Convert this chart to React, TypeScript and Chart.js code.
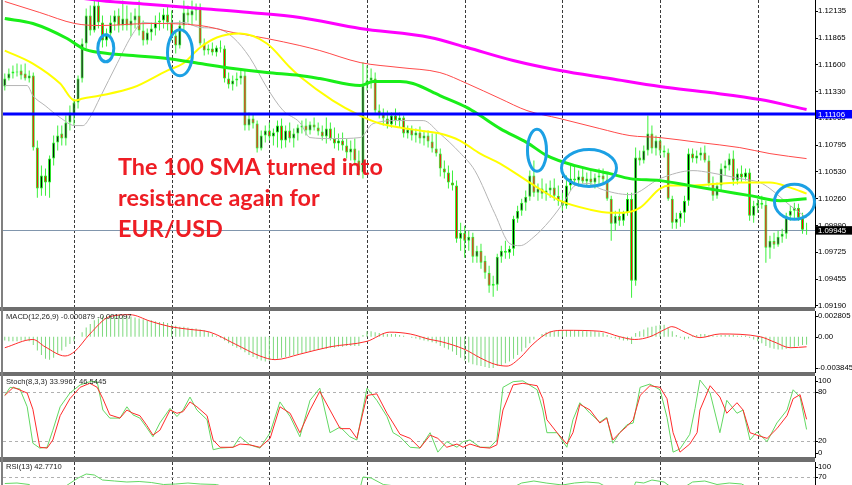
import React, { useEffect, useRef } from 'react';
import { Chart, registerables } from 'chart.js';

Chart.register(...registerables);

const W = 852;
const H = 485;
const AXIS_W = 37;
const FONT_FAMILY = '"Liberation Sans", Arial, sans-serif';

// ---------------- price candles (EUR/USD) ----------------
const open = [
  1.1138, 1.1146, 1.1151, 1.1153, 1.1154, 1.1151, 1.1146, 1.1149, 1.1077, 1.1036,
  1.1049, 1.1042, 1.1066, 1.1082, 1.1091, 1.1086, 1.1102, 1.1109, 1.1122, 1.1146,
  1.1181, 1.1209, 1.1194, 1.1219, 1.1202, 1.1184, 1.1191, 1.1202, 1.1209, 1.1199,
  1.1206, 1.1199, 1.1204, 1.1209, 1.1194, 1.1184, 1.1192, 1.1196, 1.1202, 1.1204,
  1.1210, 1.1202, 1.1189, 1.1179, 1.1199, 1.1212, 1.1209, 1.1214, 1.1216, 1.1181,
  1.1174, 1.1176, 1.1172, 1.1177, 1.1176, 1.1146, 1.1140, 1.1144, 1.1146, 1.1149,
  1.1099, 1.1106, 1.1101, 1.1076, 1.1089, 1.1094, 1.1088, 1.1092, 1.1099, 1.1084,
  1.1094, 1.1086, 1.1091, 1.1097, 1.1099, 1.1094, 1.1100, 1.1097, 1.1093, 1.1088,
  1.1096, 1.1086, 1.1081, 1.1084, 1.1079, 1.1072, 1.1076, 1.1064, 1.1052, 1.1139,
  1.1144, 1.1146, 1.1114, 1.1110, 1.1106, 1.1100, 1.1109, 1.1104, 1.1107, 1.1091,
  1.1095, 1.1089, 1.1092, 1.1086, 1.1089, 1.1083, 1.1076, 1.1071, 1.1056, 1.1052,
  1.1042, 1.1039, 1.0986, 1.0992, 1.0984, 1.0988, 1.0968, 1.0974, 1.0964, 1.0952,
  1.0939, 1.0940, 1.0968, 1.0974, 1.0972, 1.0976, 1.1006, 1.1014, 1.1022, 1.1028,
  1.1049, 1.1032, 1.1036, 1.1031, 1.1034, 1.1037, 1.1029, 1.1024, 1.1019, 1.1039,
  1.1046, 1.1044, 1.1048, 1.1043, 1.1046, 1.1042, 1.1047, 1.1049, 1.1045, 1.1026,
  1.1001, 1.1009, 1.1004, 1.1012, 1.1026, 1.0944, 1.1067, 1.1064, 1.1074, 1.1091,
  1.1076, 1.1084, 1.1074, 1.1072, 1.1026, 1.1002, 1.1006, 1.1012, 1.1024, 1.1071,
  1.1066, 1.1069, 1.1072, 1.1064, 1.1041, 1.1029, 1.1039, 1.1056, 1.1059, 1.1066,
  1.1044, 1.1051, 1.1047, 1.1052, 1.1009, 1.1019, 1.1022, 1.1020, 1.0977, 1.0984,
  1.0980, 1.0988, 1.0991, 1.1009, 1.1014, 1.1017, 1.1007, 1.0995,
];
const high = [
  1.1151, 1.1156, 1.1159, 1.1161, 1.1160, 1.1161, 1.1154, 1.1152, 1.1084, 1.1059,
  1.1056, 1.1069, 1.1089, 1.1099, 1.1099, 1.1109, 1.1119, 1.1126, 1.1149, 1.1186,
  1.1216, 1.1219, 1.1224, 1.1224, 1.1209, 1.1196, 1.1209, 1.1214, 1.1216, 1.1224,
  1.1219, 1.1212, 1.1216, 1.1224, 1.1204, 1.1196, 1.1202, 1.1209, 1.1212, 1.1216,
  1.1219, 1.1214, 1.1194, 1.1204, 1.1224, 1.1219, 1.1224, 1.1221, 1.1221, 1.1186,
  1.1180, 1.1182, 1.1179, 1.1184, 1.1179, 1.1152, 1.1149, 1.1152, 1.1154, 1.1154,
  1.1112, 1.1111, 1.1104, 1.1094, 1.1099, 1.1102, 1.1096, 1.1104, 1.1106, 1.1099,
  1.1102, 1.1096, 1.1100, 1.1104, 1.1106, 1.1103, 1.1107, 1.1102, 1.1099, 1.1107,
  1.1102, 1.1097, 1.1091, 1.1092, 1.1086, 1.1084, 1.1086, 1.1074, 1.1162, 1.1159,
  1.1156, 1.1152, 1.1120, 1.1116, 1.1114, 1.1112, 1.1116, 1.1112, 1.1109, 1.1099,
  1.1099, 1.1096, 1.1098, 1.1094, 1.1094, 1.1091, 1.1092, 1.1076, 1.1064, 1.1059,
  1.1054, 1.1044, 1.1002, 1.0999, 1.0994, 1.0992, 1.0979, 1.0981, 1.0969, 1.0959,
  1.0949, 1.0971, 1.0979, 1.0984, 1.0979, 1.1009, 1.1019, 1.1026, 1.1034, 1.1054,
  1.1064, 1.1041, 1.1046, 1.1041, 1.1044, 1.1046, 1.1039, 1.1032, 1.1049, 1.1061,
  1.1059, 1.1054, 1.1056, 1.1052, 1.1054, 1.1051, 1.1056, 1.1056, 1.1052, 1.1029,
  1.1014, 1.1016, 1.1014, 1.1032, 1.1032, 1.1077, 1.1074, 1.1079, 1.1109, 1.1099,
  1.1089, 1.1087, 1.1079, 1.1076, 1.1029, 1.1012, 1.1014, 1.1029, 1.1076, 1.1076,
  1.1074, 1.1077, 1.1079, 1.1069, 1.1048, 1.1042, 1.1061, 1.1064, 1.1071, 1.1074,
  1.1056, 1.1059, 1.1056, 1.1056, 1.1024, 1.1026, 1.1029, 1.1024, 1.0989, 1.0992,
  1.0994, 1.0996, 1.1012, 1.1019, 1.1022, 1.1021, 1.1012, 1.1002,
];
const low = [
  1.1134, 1.1144, 1.1146, 1.1148, 1.1145, 1.1144, 1.1142, 1.1074, 1.1027, 1.1029,
  1.1029, 1.1027, 1.1059, 1.1074, 1.1079, 1.1079, 1.1094, 1.1099, 1.1116, 1.1142,
  1.1176, 1.1189, 1.1192, 1.1196, 1.1177, 1.1178, 1.1187, 1.1194, 1.1192, 1.1194,
  1.1194, 1.1188, 1.1196, 1.1189, 1.1179, 1.1180, 1.1184, 1.1189, 1.1194, 1.1196,
  1.1194, 1.1184, 1.1171, 1.1176, 1.1192, 1.1202, 1.1199, 1.1204, 1.1179, 1.1169,
  1.1170, 1.1169, 1.1168, 1.1172, 1.1142, 1.1136, 1.1134, 1.1138, 1.1140, 1.1094,
  1.1094, 1.1096, 1.1072, 1.1074, 1.1082, 1.1084, 1.1079, 1.1077, 1.1076, 1.1077,
  1.1082, 1.1077, 1.1084, 1.1091, 1.1089, 1.1090, 1.1094, 1.1089, 1.1084, 1.1081,
  1.1084, 1.1076, 1.1074, 1.1074, 1.1066, 1.1064, 1.1059, 1.1049, 1.1046, 1.1134,
  1.1136, 1.1111, 1.1106, 1.1099, 1.1096, 1.1097, 1.1099, 1.1097, 1.1087, 1.1086,
  1.1084, 1.1082, 1.1081, 1.1079, 1.1077, 1.1072, 1.1068, 1.1048, 1.1046, 1.1036,
  1.1034, 1.0982, 1.0974, 1.0967, 1.0974, 1.0962, 1.0962, 1.0956, 1.0946, 1.0932,
  1.0928, 1.0934, 1.0962, 1.0966, 1.0966, 1.0969, 1.1002, 1.1009, 1.1014, 1.1024,
  1.1028, 1.1024, 1.1026, 1.1024, 1.1027, 1.1024, 1.1019, 1.1014, 1.1016, 1.1034,
  1.1039, 1.1038, 1.1041, 1.1038, 1.1039, 1.1036, 1.1039, 1.1041, 1.1024, 1.0984,
  1.0994, 1.0999, 1.0999, 1.1009, 1.0927, 1.0939, 1.1059, 1.1061, 1.1069, 1.1071,
  1.1069, 1.1069, 1.1067, 1.1024, 1.0996, 1.0996, 1.0998, 1.1002, 1.1019, 1.1062,
  1.1061, 1.1064, 1.1062, 1.1038, 1.1024, 1.1026, 1.1034, 1.1049, 1.1054, 1.1039,
  1.1040, 1.1042, 1.1044, 1.1004, 1.1002, 1.1012, 1.1016, 1.0962, 1.0966, 1.0976,
  1.0978, 1.0982, 1.0986, 1.1004, 1.1006, 1.1004, 1.0991, 1.0990,
];
const close = [
  1.1146, 1.1151, 1.1153, 1.1152, 1.1149, 1.1146, 1.1149, 1.1077, 1.1036, 1.1049,
  1.1042, 1.1066, 1.1082, 1.1089, 1.1086, 1.1102, 1.1112, 1.1122, 1.1146, 1.1181,
  1.1209, 1.1194, 1.1219, 1.1202, 1.1184, 1.1191, 1.1202, 1.1209, 1.1199, 1.1206,
  1.1199, 1.1204, 1.1209, 1.1194, 1.1184, 1.1192, 1.1196, 1.1202, 1.1204, 1.1210,
  1.1202, 1.1189, 1.1179, 1.1199, 1.1212, 1.1209, 1.1214, 1.1216, 1.1181, 1.1174,
  1.1176, 1.1172, 1.1177, 1.1176, 1.1146, 1.1140, 1.1144, 1.1146, 1.1149, 1.1099,
  1.1106, 1.1101, 1.1076, 1.1089, 1.1094, 1.1088, 1.1092, 1.1099, 1.1084, 1.1094,
  1.1086, 1.1091, 1.1097, 1.1099, 1.1094, 1.1100, 1.1097, 1.1093, 1.1088, 1.1096,
  1.1086, 1.1081, 1.1084, 1.1079, 1.1072, 1.1076, 1.1064, 1.1054, 1.1139, 1.1144,
  1.1147, 1.1114, 1.1110, 1.1106, 1.1100, 1.1109, 1.1104, 1.1107, 1.1091, 1.1095,
  1.1089, 1.1092, 1.1086, 1.1089, 1.1083, 1.1076, 1.1071, 1.1056, 1.1052, 1.1042,
  1.1039, 1.0986, 1.0992, 1.0984, 1.0988, 1.0968, 1.0974, 1.0962, 1.0952, 1.0939,
  1.0941, 1.0968, 1.0974, 1.0972, 1.0976, 1.1006, 1.1014, 1.1022, 1.1028, 1.1049,
  1.1032, 1.1036, 1.1031, 1.1034, 1.1037, 1.1029, 1.1024, 1.1019, 1.1039, 1.1046,
  1.1044, 1.1048, 1.1043, 1.1046, 1.1042, 1.1047, 1.1049, 1.1045, 1.1026, 1.1001,
  1.1009, 1.1004, 1.1012, 1.1026, 1.0944, 1.1067, 1.1064, 1.1074, 1.1091, 1.1076,
  1.1084, 1.1074, 1.1072, 1.1026, 1.1002, 1.1006, 1.1012, 1.1024, 1.1071, 1.1066,
  1.1069, 1.1072, 1.1064, 1.1041, 1.1029, 1.1039, 1.1056, 1.1059, 1.1066, 1.1044,
  1.1051, 1.1047, 1.1052, 1.1009, 1.1019, 1.1022, 1.1020, 1.0977, 1.0984, 1.0980,
  1.0988, 1.0991, 1.1009, 1.1014, 1.1017, 1.1007, 1.0995, 1.09945,
];

// ---------------- moving averages: [candle index, price] ----------------
const maMagenta = [
  [0, 1.1239], [11.1, 1.1231], [23.4, 1.1224], [35.7, 1.122], [48, 1.1216], [60.2, 1.1212],
  [72.5, 1.1207], [87.3, 1.1196], [104.5, 1.1187], [113.6, 1.1177], [124.9, 1.1164],
  [136.4, 1.1154], [148.7, 1.1146], [161, 1.1138], [173.3, 1.1132], [185.6, 1.1125], [197, 1.1115],
];
const maRed = [
  [0, 1.1223], [8.6, 1.1212], [17.2, 1.1201], [23.4, 1.1199], [35.7, 1.1201], [48, 1.1199],
  [56.1, 1.1192], [64.4, 1.1186], [72.5, 1.1179], [77.4, 1.1174], [87.3, 1.1162], [97.1, 1.1157],
  [106.9, 1.1152], [113.6, 1.1141], [121.7, 1.1126], [128.3, 1.1114], [136.4, 1.1106],
  [146.2, 1.1096], [153.6, 1.1089], [161, 1.1087], [170.8, 1.1082], [180.6, 1.1077],
  [188, 1.1071], [197, 1.1066],
];
const sma100 = [
  [0, 1.1206], [6.9, 1.1201], [15.3, 1.1186], [19.2, 1.1176], [23.4, 1.1172], [31.5, 1.1169],
  [39.9, 1.1166], [48, 1.1161], [56.1, 1.1156], [64.4, 1.1152], [72.5, 1.1149], [77.4, 1.1146],
  [87.3, 1.1139], [90.5, 1.1143], [97.1, 1.1143], [100.3, 1.1141], [106.9, 1.1129],
  [113.6, 1.1117], [116.8, 1.1109], [121.7, 1.1096], [128.3, 1.1082], [133.2, 1.1069],
  [140.1, 1.1059], [148.7, 1.1051], [153.6, 1.1046], [161, 1.1044], [168.3, 1.1039],
  [175.7, 1.1034], [183.1, 1.1029], [190.5, 1.1024], [197, 1.1026],
];
const maYellow = [
  [0, 1.1174], [6.9, 1.1161], [13.6, 1.1141], [17.2, 1.1124], [19.2, 1.1126], [23.4, 1.1129],
  [31.5, 1.1137], [39.9, 1.1154], [43.8, 1.1161], [48, 1.1177], [52.1, 1.1187], [57.8, 1.1191],
  [64.4, 1.1181], [70.1, 1.1157], [72.5, 1.1148], [80.6, 1.1124], [87.3, 1.1109], [92.2, 1.1101],
  [97.1, 1.1097], [102, 1.1094], [106.9, 1.1091], [111.8, 1.1084], [116.8, 1.1071],
  [121.7, 1.1061], [129, 1.1042], [136.4, 1.1024], [143.8, 1.1015], [148.7, 1.1012],
  [151.9, 1.1012], [156.1, 1.1017], [161, 1.1036], [163.4, 1.1039], [168.3, 1.1039],
  [175.7, 1.1041], [180.6, 1.1042], [188, 1.1042], [193, 1.1037], [197, 1.1031],
];
const maGray = [
  [0, 1.1139], [5.5, 1.1139], [6.9, 1.1129], [9.9, 1.1119], [13.6, 1.1107], [17.2, 1.1099],
  [19.2, 1.1099], [20.9, 1.1107], [23.4, 1.1127], [27.6, 1.1161], [31.5, 1.1191], [34, 1.1202],
  [38.1, 1.1201], [43.8, 1.1202], [48, 1.1197], [52.1, 1.1196], [56.1, 1.1187], [60.2, 1.1167],
  [64.4, 1.1137], [68.4, 1.1114], [72.5, 1.1102], [75, 1.1087], [80.6, 1.1086], [87.3, 1.1087],
  [90.5, 1.1101], [97.1, 1.1104], [102.8, 1.1104], [106.9, 1.1091], [111.8, 1.1072],
  [115.5, 1.1054], [120.4, 1.1011], [124.1, 1.0981], [126.6, 1.0979], [129.8, 1.0987],
  [133.9, 1.1004], [137.6, 1.1024], [140.1, 1.1039], [143.8, 1.1041], [146.2, 1.1036],
  [153.6, 1.103], [161, 1.1046], [169.1, 1.1054], [173.3, 1.1052], [180.6, 1.1046],
  [185.6, 1.1042], [188, 1.1036], [193, 1.1019], [197, 1.1007],
];

// ---------------- MACD(12,26,9) ----------------
const macdMain = [
  -0.0004, -0.0005, -0.0005, -0.0005, -0.0004, -0.0004, -0.0005, -0.0009,
  -0.0015, -0.0020, -0.0024, -0.0025, -0.0023,
  -0.0019, -0.0015, -0.0011, -0.0008, -0.0005,
  0.0000, 0.0005, 0.0010,
  0.0014, 0.0018, 0.0020, 0.0022,
  0.0023, 0.0024, 0.0024, 0.0024, 0.0023, 0.0023, 0.0022, 0.0021,
  0.0020, 0.0019, 0.0018, 0.0018, 0.0017, 0.0016, 0.0016, 0.0015,
  0.0013, 0.0012, 0.0011, 0.0011, 0.0010, 0.0009, 0.0009, 0.0008,
  0.0007, 0.0005, 0.0003, 0.0001, -0.0001, -0.0004,
  -0.0007, -0.0010, -0.0012, -0.0014, -0.0017, -0.0020, -0.0022, -0.0024, -0.0026, -0.0027,
  -0.0026, -0.0025, -0.0024, -0.0023, -0.0022, -0.0021, -0.0020, -0.0019,
  -0.0018, -0.0017, -0.0016, -0.0015, -0.0014, -0.0013, -0.0013, -0.0012, -0.0012, -0.0011,
  -0.0011, -0.0010, -0.0010, -0.0010, -0.0010,
  0.0002, 0.0006, 0.0006, 0.0005, 0.0004,
  0.0004, 0.0003, 0.0003, 0.0003, 0.0002, 0.0001, 0.0000,
  -0.0001, -0.0002, -0.0003, -0.0004, -0.0005, -0.0006, -0.0007,
  -0.0010, -0.0012, -0.0014, -0.0016, -0.0020, -0.0023, -0.0026,
  -0.0028, -0.0030, -0.0031, -0.0032, -0.0033, -0.0034, -0.0034, -0.0032,
  -0.0031, -0.0029, -0.0027, -0.0024, -0.0020, -0.0016, -0.0012,
  -0.0007, -0.0003, 0.0000, 0.0003,
  0.0005, 0.0006, 0.0006, 0.0007, 0.0007, 0.0007, 0.0007, 0.0007, 0.0007, 0.0007, 0.0006,
  0.0006, 0.0006, 0.0005,
  0.0004, 0.0002, -0.0001, -0.0002, -0.0003, -0.0004, -0.0004, -0.0008,
  0.0004, 0.0006, 0.0008, 0.0010, 0.0011, 0.0012,
  0.0013, 0.0013, 0.0010, 0.0006,
  0.0002, -0.0001, -0.0003, -0.0002, 0.0001,
  0.0002, 0.0003, 0.0003, 0.0002, 0.0001, 0.0001, 0.0002, 0.0002,
  0.0002, 0.0002, 0.0001, 0.0001, 0.0001, -0.0001,
  -0.0003, -0.0005, -0.0007, -0.0010, -0.0012, -0.0013, -0.0014,
  -0.0014, -0.0013, -0.0012, -0.0011, -0.0010, -0.0009, -0.000879,
];
const macdSignal = [
  [0, -0.0012], [6.9, -0.0003], [9.9, -0.0011], [14.8, -0.0021], [17.2, -0.0016], [20.9, 0.0003],
  [25.8, 0.0022], [30.8, 0.0024], [35.7, 0.0017], [40.6, 0.0011], [45.5, 0.0008], [50.4, 0.0005],
  [56.6, -0.0008], [62.7, -0.0021], [66.4, -0.0025], [72.5, -0.0019], [79.9, -0.0011],
  [89, -0.0005], [94.6, 0.0005], [99.6, 0.0003], [104.5, -0.0003], [106.9, -0.0005],
  [113.1, -0.0014], [116.8, -0.0023], [120.4, -0.003], [123.4, -0.0032], [126.6, -0.0023],
  [129.8, -0.0008], [133.9, 0.0005], [137.6, 0.0007], [146.2, 0.0006], [151.1, 0.0],
  [154.8, -0.0003], [158.5, 0.0], [162.2, 0.0008], [163.9, 0.0011], [167.1, 0.0005],
  [170.8, -0.0001], [175.7, 0.0003], [185.6, 0.0], [189.2, -0.0006], [193, -0.0012],
  [197, -0.001097],
];

// ---------------- Stochastic(8,3,3) ----------------
const stochMain = [
  [0, 76], [1.3, 86], [3.7, 84], [5.5, 62], [6.9, 17], [8.6, 11], [10.4, 12], [11.8, 33],
  [13.6, 62], [16, 79], [18.5, 89], [20.9, 93], [22.7, 93], [24.1, 58], [25.8, 48], [28.3, 48],
  [30, 62], [31.5, 52], [33.2, 48], [34.9, 36], [36.4, 25], [38.1, 42], [40.6, 60], [42.3, 50],
  [43.8, 58], [45.5, 74], [47.2, 58], [49.7, 46], [51.2, 9], [52.9, 11], [56.1, 12], [57.8, 25],
  [60.2, 15], [62.7, 11], [65.2, 30], [67.6, 68], [70.1, 50], [72.5, 25], [75, 70], [77.4, 85],
  [79.9, 30], [82.4, 37], [84.8, 25], [86.5, 21], [89, 85], [91.4, 70], [93.9, 50], [95.4, 30],
  [97.1, 25], [99.6, 12], [102, 11], [104.5, 30], [106.4, 6], [108.6, 19], [111.1, 12],
  [112.6, 19], [114.3, 21], [116.8, 12], [119.2, 12], [120.9, 21], [122.4, 86], [124.9, 93],
  [127.3, 94], [130.8, 83], [132.2, 58], [133.2, 30], [135.7, 30], [138.1, 12], [139.6, 46],
  [141.3, 67], [143.8, 54], [146.2, 43], [147.9, 49], [149.4, 17], [151.1, 30], [152.9, 40],
  [154.4, 42], [156.1, 86], [158.5, 90], [161, 83], [162.7, 49], [164.2, 6], [165.9, 10],
  [168.3, 28], [169.6, 60], [170.8, 95], [173.3, 79], [175.7, 30], [177.4, 70], [179.9, 54],
  [181.4, 58], [183.1, 21], [184.8, 31], [187.3, 19], [189.7, 42], [192.2, 58], [193.7, 83],
  [195.4, 74], [197, 33.9967],
];
const stochSignal = [
  [0, 76], [2.1, 86], [5.5, 79], [6.9, 59], [8.6, 12], [10.4, 11], [11.8, 21], [13.6, 51],
  [16, 72], [18.5, 86], [20.9, 91], [22.7, 86], [24.1, 72], [25.8, 52], [28.3, 48], [30, 58],
  [31.5, 54], [33.2, 51], [34.9, 39], [36.4, 27], [38.1, 33], [40.6, 58], [42.3, 54], [43.8, 56],
  [45.5, 68], [47.2, 62], [49.7, 51], [51.2, 21], [52.9, 12], [56.1, 12], [57.8, 16], [60.2, 15],
  [62.7, 12], [65.2, 23], [67.6, 62], [70.1, 54], [72.5, 30], [75, 58], [77.4, 81], [79.9, 58],
  [82.4, 35], [84.8, 35], [86.5, 23], [89, 76], [91.4, 78], [93.9, 54], [95.4, 42], [97.1, 28],
  [99.6, 23], [102, 11], [104.5, 27], [106.4, 23], [108.6, 12], [111.1, 16], [112.6, 12],
  [114.3, 16], [116.8, 12], [119.2, 11], [120.9, 15], [122.4, 58], [124.9, 89], [127.3, 91],
  [130.8, 88], [132.2, 72], [133.2, 46], [135.7, 30], [138.1, 16], [139.6, 30], [141.3, 65],
  [143.8, 58], [146.2, 42], [147.9, 48], [149.4, 21], [151.1, 30], [152.9, 38], [154.4, 46],
  [156.1, 76], [158.5, 88], [161, 86], [162.7, 72], [164.2, 30], [165.9, 6], [168.3, 16],
  [170.1, 30], [170.8, 58], [173.3, 88], [175.7, 74], [177.4, 54], [179.9, 67], [181.4, 58],
  [183.1, 30], [184.8, 27], [187.3, 23], [189.7, 35], [192.2, 51], [193.7, 72], [195.4, 77],
  [197, 46.5445],
];

// ---------------- RSI(13) ----------------
const rsi = [
  [0, 57], [3, 58], [6, 55], [8, 40], [12, 40], [15, 52], [18, 68], [20, 76], [22, 74], [24, 64],
  [27, 62], [30, 60], [33, 61], [36, 59], [39, 55], [42, 56], [45, 58], [48, 56], [52, 55],
  [56, 45], [60, 38], [66, 36], [72, 40], [78, 42], [84, 40], [87, 38], [88, 70], [90, 68],
  [93, 55], [98, 50], [104, 45], [110, 32], [116, 25], [121, 28], [125, 50], [127, 58], [130, 62],
  [133, 58], [137, 54], [140, 58], [143, 60], [146, 58], [149, 45], [154, 35], [155, 60],
  [157, 58], [159, 64], [162, 60], [164, 48], [167, 50], [169, 60], [172, 62], [175, 55],
  [178, 58], [181, 56], [183, 48], [187, 38], [190, 40], [193, 46], [195, 47], [197, 42.771],
];

// ---------------- axis ticks / levels / labels ----------------
const mainTicks = [1.12135, 1.11865, 1.116, 1.1133, 1.11065, 1.10795, 1.1053, 1.1026, 1.0999, 1.09725, 1.09455, 1.0919];
const macdTicks = [0.002805, 0, -0.003845];
const stochTicks = [100, 80, 20, 0];
const rsiTicks = [100, 70];
const stochLevels = [80, 20];
const rsiLevels = [70, 30];
const resistanceLevel = 1.11106;
const lastPrice = 1.09945;
const gridCandles = [17, 41, 65, 89, 113, 137, 161, 185];
const noteLines = ['The 100 SMA turned into', 'resistance again for', 'EUR/USD'];
const headers = {
  macd: 'MACD(12,26,9) -0.000879 -0.001097',
  stoch: 'Stoch(8,3,3) 33.9967 46.5445',
  rsi: 'RSI(13) 42.7710',
};
// highlighted spots: [candle index, price, rx px, ry px]
const circles = [
  [24.82, 1.11762, 8, 13.5],
  [43.05, 1.11717, 12.5, 23],
  [130.76, 1.10743, 9.5, 21],
  [143.54, 1.10566, 27.5, 18.5],
  [194.03, 1.10229, 20, 17.5],
];

// ---------------- layout constants ----------------
const X_MIN = -0.44;
const X_MAX = 199.07;
const MAIN_MAX = 1.12245;
const MAIN_MIN = 1.09177;

const toXY = (pts) => pts.map(([x, y]) => ({ x, y }));

function baseOptions(padTop, padBottom, yMin, yMax) {
  return {
    responsive: false,
    animation: false,
    devicePixelRatio: 1,
    events: [],
    layout: { padding: { left: 3, right: 0, top: padTop, bottom: padBottom } },
    plugins: { legend: { display: false }, tooltip: { enabled: false } },
    scales: {
      x: { type: 'linear', display: false, min: X_MIN, max: X_MAX, offset: false, grid: { offset: false } },
      y: {
        type: 'linear',
        position: 'right',
        min: yMin,
        max: yMax,
        afterFit: (s) => { s.width = AXIS_W; s.paddingTop = 0; s.paddingBottom = 0; },
        ticks: { display: false },
        grid: { display: false },
        border: { display: true, color: '#000', width: 1 },
      },
    },
  };
}

const vgridPlugin = {
  id: 'vgrid',
  beforeDatasetsDraw(chart) {
    const { ctx, chartArea: a } = chart;
    const xs = chart.scales.x;
    ctx.save();
    ctx.strokeStyle = '#3a3a3a';
    ctx.lineWidth = 1;
    ctx.setLineDash([3, 2]);
    for (const g of gridCandles) {
      const px = Math.round(xs.getPixelForValue(g)) + 0.5;
      ctx.beginPath();
      ctx.moveTo(px, a.top);
      ctx.lineTo(px, a.bottom);
      ctx.stroke();
    }
    ctx.restore();
  },
};

const framePlugin = {
  id: 'frame',
  afterDraw(chart) {
    const { ctx, chartArea: a, height } = chart;
    ctx.save();
    ctx.fillStyle = '#6e6e6e';
    if (a.top > 0) ctx.fillRect(0, 0, a.right, a.top);
    if (a.bottom < height) ctx.fillRect(0, a.bottom, a.right, height - a.bottom);
    ctx.fillStyle = '#808080';
    ctx.fillRect(1, 0, 2, height);
    ctx.restore();
  },
};

function subPanelPlugin(header, ticks, fmt, levels, headerDy) {
  return {
    id: 'subpanel',
    beforeDatasetsDraw(chart) {
      const { ctx, chartArea: a } = chart;
      const ys = chart.scales.y;
      ctx.save();
      ctx.strokeStyle = '#b0b0b0';
      ctx.lineWidth = 1;
      ctx.setLineDash([3, 3]);
      for (const l of levels) {
        const py = Math.round(ys.getPixelForValue(l)) + 0.5;
        ctx.beginPath();
        ctx.moveTo(a.left, py);
        ctx.lineTo(a.right, py);
        ctx.stroke();
      }
      ctx.restore();
    },
    afterDraw(chart) {
      const { ctx, chartArea: a } = chart;
      const ys = chart.scales.y;
      ctx.save();
      ctx.font = `7.8px ${FONT_FAMILY}`;
      ctx.fillStyle = '#000';
      ctx.textBaseline = 'middle';
      ctx.textAlign = 'left';
      const top = ys.max;
      const bottom = ys.min;
      for (const v of ticks) {
        let py = ys.getPixelForValue(v);
        if (v === top) py += 4.5;
        else if (v === bottom) py -= 3.8;
        ctx.fillRect(a.right, Math.round(py), 3, 1);
        ctx.fillText(fmt(v), a.right + 3, py);
      }
      ctx.font = `7.6px ${FONT_FAMILY}`;
      ctx.fillStyle = '#1e1e1e';
      ctx.fillText(header, 6, a.top + headerDy);
      ctx.restore();
    },
  };
}

const mainAnnoPlugin = {
  id: 'mainAnno',
  beforeDatasetsDraw(chart) {
    const { ctx, chartArea: a } = chart;
    const ys = chart.scales.y;
    const py = Math.round(ys.getPixelForValue(lastPrice)) + 0.5;
    ctx.save();
    ctx.strokeStyle = '#8196ad';
    ctx.lineWidth = 1;
    ctx.beginPath();
    ctx.moveTo(a.left, py);
    ctx.lineTo(a.right, py);
    ctx.stroke();
    ctx.restore();
  },
  afterDatasetsDraw(chart) {
    const { ctx, chartArea: a } = chart;
    const xs = chart.scales.x;
    const ys = chart.scales.y;
    ctx.save();
    // resistance level
    const ry = ys.getPixelForValue(resistanceLevel);
    ctx.strokeStyle = '#0000ff';
    ctx.lineWidth = 3;
    ctx.beginPath();
    ctx.moveTo(a.left, ry);
    ctx.lineTo(a.right, ry);
    ctx.stroke();
    // circles
    ctx.strokeStyle = '#1ca0e4';
    ctx.lineWidth = 3;
    for (const [ci, cp, rx, rYY] of circles) {
      ctx.beginPath();
      ctx.ellipse(xs.getPixelForValue(ci), ys.getPixelForValue(cp), rx, rYY, 0, 0, Math.PI * 2);
      ctx.stroke();
    }
    // note text
    ctx.font = `bold 100px Lato, ${FONT_FAMILY}`;
    const w0 = ctx.measureText(noteLines[0]).width;
    const size = (100 * 265) / w0;
    ctx.font = `bold ${size.toFixed(2)}px Lato, ${FONT_FAMILY}`;
    ctx.fillStyle = '#ee1d24';
    ctx.textBaseline = 'alphabetic';
    ctx.textAlign = 'left';
    const baselines = [174.5, 205.5, 237];
    noteLines.forEach((t, i) => ctx.fillText(t, a.left + 115, a.top + baselines[i]));
    ctx.restore();
  },
  afterDraw(chart) {
    const { ctx, chartArea: a, width } = chart;
    const ys = chart.scales.y;
    ctx.save();
    ctx.font = `7.8px ${FONT_FAMILY}`;
    ctx.textBaseline = 'middle';
    ctx.textAlign = 'left';
    const boxes = [
      [resistanceLevel, '#0000ff'],
      [lastPrice, '#000000'],
    ];
    for (const [v, c] of boxes) {
      const py = ys.getPixelForValue(v);
      ctx.fillStyle = c;
      ctx.fillRect(a.right + 1, py - 4, width - a.right - 1, 8.5);
      ctx.fillStyle = '#ffffff';
      ctx.fillText(v.toFixed(5), a.right + 3, py + 0.5);
    }
    ctx.restore();
  },
};

function lineDs(pts, color, width, order, mode) {
  return {
    type: 'line',
    data: toXY(pts),
    borderColor: color,
    borderWidth: width,
    pointRadius: 0,
    fill: false,
    tension: mode === 'straight' ? 0 : 0.4,
    cubicInterpolationMode: mode === 'straight' ? 'default' : 'monotone',
    order,
  };
}

function mainConfig() {
  const bodies = open.map((o, i) => ({ x: i, y: [o, close[i]] }));
  const wicks = open.map((_, i) => ({ x: i, y: [low[i], high[i]] }));
  const bodyColors = open.map((o, i) => (close[i] >= o ? '#000000' : '#ff0000'));
  const opts = baseOptions(0, 2, MAIN_MIN, MAIN_MAX);
  opts.scales.y = {
    ...opts.scales.y,
    afterBuildTicks: (s) => { s.ticks = mainTicks.map((v) => ({ value: v })); },
    ticks: {
      display: true,
      autoSkip: false,
      padding: 0,
      color: '#000',
      font: { family: FONT_FAMILY, size: 7.8 },
      callback: (v) => Number(v).toFixed(5),
    },
    grid: { display: true, drawOnChartArea: false, drawTicks: true, tickLength: 3, color: '#000' },
  };
  return {
    type: 'bar',
    data: {
      datasets: [
        lineDs(maMagenta, '#ff00ff', 3, 1),
        lineDs(sma100, '#19ee19', 3, 2),
        lineDs(maYellow, '#ffff00', 2, 3),
        lineDs(maRed, '#ff4a4a', 1, 4),
        lineDs(maGray, '#b5b5b5', 1, 5),
        {
          type: 'bar',
          data: bodies,
          backgroundColor: bodyColors,
          borderColor: '#22ee22',
          borderWidth: 1,
          borderSkipped: false,
          barThickness: 3,
          maxBarThickness: 3,
          grouped: false,
          inflateAmount: 0,
          order: 10,
        },
        {
          type: 'bar',
          data: wicks,
          backgroundColor: '#3cf03c',
          borderWidth: 0,
          barThickness: 1,
          maxBarThickness: 1,
          grouped: false,
          inflateAmount: 0,
          order: 11,
        },
      ],
    },
    options: opts,
    plugins: [vgridPlugin, mainAnnoPlugin, framePlugin],
  };
}

function macdConfig() {
  const opts = baseOptions(2, 1, macdTicks[2], macdTicks[0]);
  return {
    type: 'bar',
    data: {
      datasets: [
        lineDs(macdSignal, '#ff2a2a', 1, 1),
        {
          type: 'bar',
          data: macdMain.map((v, i) => ({ x: i, y: v })),
          backgroundColor: '#7dd97d',
          borderWidth: 0,
          barThickness: 1,
          maxBarThickness: 1,
          grouped: false,
          inflateAmount: 0,
          order: 2,
        },
      ],
    },
    options: opts,
    plugins: [
      vgridPlugin,
      subPanelPlugin(headers.macd, macdTicks, (v) => (v === 0 ? '0.00' : v.toFixed(6)), [], 6),
      framePlugin,
    ],
  };
}

function stochConfig() {
  const opts = baseOptions(3, 2, 0, 100);
  return {
    type: 'line',
    data: {
      datasets: [
        lineDs(stochSignal, '#ff2b2b', 1, 1, 'straight'),
        lineDs(stochMain, '#62d862', 1, 2, 'straight'),
      ],
    },
    options: opts,
    plugins: [
      vgridPlugin,
      subPanelPlugin(headers.stoch, stochTicks, (v) => String(v), stochLevels, 6),
      framePlugin,
    ],
  };
}

function rsiConfig() {
  const opts = baseOptions(3, 1, 0, 100);
  return {
    type: 'line',
    data: { datasets: [lineDs(rsi, '#62d862', 1, 1, 'straight')] },
    options: opts,
    plugins: [
      vgridPlugin,
      subPanelPlugin(headers.rsi, rsiTicks, (v) => String(v), rsiLevels, 5),
      framePlugin,
    ],
  };
}

function Panel({ top, height, build }) {
  const ref = useRef(null);
  useEffect(() => {
    const chart = new Chart(ref.current, build());
    return () => chart.destroy();
  }, []);
  return (
    <canvas
      ref={ref}
      width={W}
      height={height}
      style={{ position: 'absolute', left: 0, top, width: W, height, display: 'block' }}
    />
  );
}

export default function App() {
  return (
    <div
      style={{
        position: 'fixed',
        left: 0,
        top: 0,
        width: W,
        height: H,
        overflow: 'hidden',
        background: '#ffffff',
      }}
    >
      <Panel top={0} height={309} build={mainConfig} />
      <Panel top={309} height={64} build={macdConfig} />
      <Panel top={373} height={86} build={stochConfig} />
      <Panel top={459} height={54} build={rsiConfig} />
    </div>
  );
}
